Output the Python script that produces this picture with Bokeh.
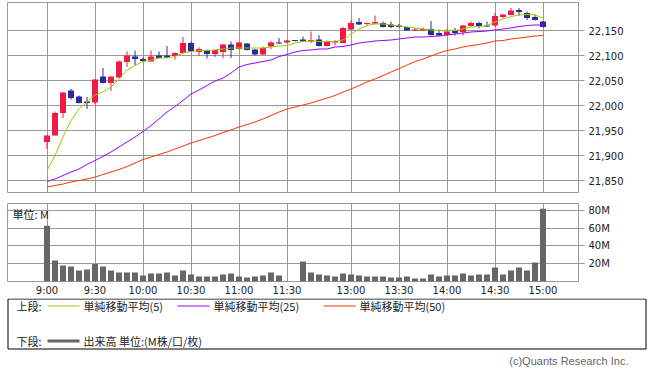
from bokeh.plotting import figure
from bokeh.models import Range1d, FixedTicker, NumeralTickFormatter, Label, ColumnDataSource
from bokeh.layouts import column
from bokeh.embed import file_html
from bokeh.resources import INLINE
from bokeh.core.properties import value

# ---------------- data ----------------
tick_pos = [0, 6, 12, 18, 24, 30, 38, 44, 50, 56, 62]
tick_labels = ["9:00", "9:30", "10:00", "10:30", "11:00", "11:30",
               "13:00", "13:30", "14:00", "14:30", "15:00"]

opens = [21927, 21940, 21985, 22030, 22018, 22008, 22006, 22058, 22045, 22056,
         22087, 22098, 22093, 22088, 22100, 22100, 22099, 22105, 22125, 22107,
         22111, 22103, 22107, 22122, 22113, 22124, 22112, 22102, 22118, 22126,
         22126, 22131, 22132, 22128, 22132, 22119, 22126, 22125, 22152, 22167,
         22163, 22164, 22165, 22162, 22160, 22157, 22150, 22150, 22153, 22145,
         22141, 22150, 22147, 22159, 22165, 22160, 22160, 22177, 22181, 22191,
         22185, 22177, 22168]
highs = [21941, 21988, 22027, 22033, 22020, 22017, 22053, 22075, 22058, 22090,
         22108, 22110, 22096, 22110, 22108, 22119, 22106, 22137, 22128, 22116,
         22112, 22112, 22123, 22128, 22127, 22125, 22113, 22118, 22129, 22135,
         22131, 22131, 22138, 22148, 22141, 22130, 22131, 22157, 22170, 22175,
         22166, 22180, 22168, 22168, 22163, 22158, 22155, 22156, 22169, 22152,
         22153, 22155, 22161, 22168, 22167, 22168, 22185, 22183, 22195, 22195,
         22188, 22182, 22169]
lows = [21913, 21940, 21975, 22012, 22004, 21993, 22003, 22044, 22029, 22055,
        22077, 22081, 22088, 22088, 22094, 22095, 22092, 22104, 22107, 22100,
        22094, 22097, 22095, 22095, 22112, 22110, 22100, 22101, 22113, 22123,
        22125, 22128, 22127, 22125, 22118, 22118, 22120, 22124, 22151, 22161,
        22160, 22163, 22156, 22155, 22156, 22149, 22149, 22149, 22140, 22139,
        22140, 22140, 22140, 22158, 22155, 22157, 22158, 22174, 22180, 22180,
        22171, 22170, 22156]
closes = [21940, 21985, 22026, 22015, 22005, 22005, 22052, 22045, 22058, 22088,
          22100, 22093, 22089, 22098, 22095, 22096, 22105, 22125, 22108, 22113,
          22103, 22111, 22122, 22111, 22126, 22111, 22102, 22115, 22126, 22124,
          22130, 22129, 22128, 22131, 22119, 22127, 22129, 22155, 22165, 22162,
          22165, 22167, 22157, 22157, 22157, 22150, 22152, 22153, 22141, 22140,
          22148, 22145, 22160, 22165, 22159, 22158, 22179, 22182, 22190, 22187,
          22175, 22171, 22157]

ma5 = [21870, 21900, 21937, 21970, 21993, 22007, 22021, 22027, 22037, 22053,
       22071, 22080, 22088, 22091, 22095, 22095, 22098, 22105, 22108, 22110,
       22110, 22111, 22113, 22115, 22115, 22115, 22115, 22115, 22117, 22119,
       22120, 22125, 22128, 22129, 22128, 22128, 22128, 22131, 22143, 22153,
       22160, 22163, 22163, 22161, 22159, 22157, 22155, 22153, 22151, 22150,
       22149, 22150, 22153, 22157, 22158, 22160, 22167, 22173, 22178, 22181,
       22182, 22181, 22175]
ma25 = [21848, 21853, 21860, 21867, 21873, 21882, 21890, 21898, 21907, 21917,
        21927, 21937, 21948, 21960, 21973, 21987, 21998, 22010, 22023, 22031,
        22040, 22049, 22055, 22065, 22077, 22082, 22085, 22088, 22091, 22098,
        22102, 22107, 22110, 22111, 22113, 22113, 22117, 22118, 22121, 22125,
        22127, 22129, 22130, 22131, 22133, 22135, 22137, 22137, 22138, 22139,
        22141, 22143, 22145, 22147, 22148, 22149, 22151, 22153, 22155, 22158,
        22160, 22161, 22161]
ma50 = [21837, 21840, 21843, 21847, 21850, 21853, 21857, 21862, 21867, 21872,
        21878, 21885, 21892, 21897, 21902, 21907, 21913, 21919, 21925, 21930,
        21935, 21940, 21946, 21951, 21957, 21962, 21967, 21973, 21980, 21987,
        21993, 21997, 22001, 22005, 22010, 22015, 22020, 22027, 22033, 22040,
        22047, 22053, 22060, 22067, 22074, 22081, 22088, 22093, 22099, 22105,
        22110, 22113, 22117, 22120, 22122, 22125, 22129, 22130, 22133, 22135,
        22137, 22139, 22140]

volume = [62.8, 23.6, 17.9, 16.8, 12.3, 13.5, 19.8, 16.8, 12.3, 10.1,
          10.1, 10.1, 6.7, 9.0, 9.0, 10.1, 6.7, 12.3, 7.9, 5.6,
          5.6, 5.6, 7.9, 9.0, 5.6, 4.5, 5.6, 6.7, 10.1, 6.7,
          0.3, 0.0, 22.4, 10.1, 7.9, 6.7, 5.6, 9.0, 7.9, 6.7,
          5.6, 5.6, 5.6, 4.5, 4.5, 5.6, 3.4, 3.4, 7.9, 5.6,
          6.7, 6.7, 9.0, 6.7, 7.9, 7.9, 15.7, 7.9, 12.3, 15.7,
          12.3, 21.3, 81.9]

price_ticks = [21850, 21900, 21950, 22000, 22050, 22100, 22150]
vol_ticks = [20, 40, 60, 80]
vol_labels = ["20M", "40M", "60M", "80M"]

ma_names = ["単純移動平均(5)", "単純移動平均(25)", "単純移動平均(50)"]
ma_colors = ["#99cc00", "#9900ff", "#ff3300"]
vol_name = "出来高 単位:(M株/口/枚)"

# ---------------- style ----------------
UP = "#ee1b47"
DOWN = "#2c2c96"
GRID = "#999999"
VOLC = "#666666"
AXIS_FONT = "DejaVu Sans"
JP_FONT = "Noto Sans CJK JP"
W = 655

n = len(opens)
idx = list(range(n))
px_per_bar = 8.0
frame_w = 571
x_start = -39.5 / px_per_bar
x_rng = Range1d(x_start, x_start + frame_w / px_per_bar)

body_top, body_bot, cols = [], [], []
for o, c in zip(opens, closes):
    t, b = max(o, c), min(o, c)
    if t - b < 2:
        b = t - 2
    body_top.append(t)
    body_bot.append(b)
    cols.append(UP if c >= o else DOWN)

src = ColumnDataSource(dict(x=idx, o=opens, h=highs, l=lows, c=closes,
                            bt=body_top, bb=body_bot, col=cols,
                            ma5=ma5, ma25=ma25, ma50=ma50, vol=volume))


def style_right_axis(ax):
    ax.major_tick_out = 6
    ax.major_tick_in = 0
    ax.minor_tick_out = 0
    ax.minor_tick_in = 0
    ax.major_label_standoff = 4
    ax.axis_line_color = GRID
    ax.major_tick_line_color = GRID
    ax.major_label_text_font = AXIS_FONT
    ax.major_label_text_font_size = "10px"
    ax.major_label_text_color = "#222222"


# ---------------- price panel ----------------
p = figure(width=W, height=203, x_range=x_rng, y_range=Range1d(21826, 22206),
           output_backend="svg", toolbar_location=None,
           x_axis_location="below", y_axis_location="right",
           min_border_left=7, min_border_right=W - 7 - frame_w, min_border_top=2, min_border_bottom=11)
p.outline_line_color = GRID
p.ygrid.grid_line_color = GRID
p.xgrid.grid_line_color = GRID
p.xaxis.ticker = FixedTicker(ticks=tick_pos)
p.xaxis.visible = False
ya = p.yaxis[0]
ya.ticker = FixedTicker(ticks=price_ticks)
ya.formatter = NumeralTickFormatter(format="0,0")
style_right_axis(ya)

p.segment(x0="x", y0="l", x1="x", y1="h", color="col", line_width=1, source=src)
p.vbar(x="x", top="bt", bottom="bb", width=0.75, fill_color="col", line_color=None, source=src)
for key, colr in zip(["ma5", "ma25", "ma50"], ma_colors):
    p.line(x="x", y=key, line_color=colr, line_width=1, source=src)

# ---------------- volume panel ----------------
v = figure(width=W, height=95, x_range=x_rng, y_range=Range1d(0, 87.8),
           output_backend="svg", toolbar_location=None,
           x_axis_location="below", y_axis_location="right",
           min_border_left=7, min_border_right=W - 7 - frame_w, min_border_top=0, min_border_bottom=16)
v.outline_line_color = GRID
v.ygrid.grid_line_color = GRID
v.xgrid.grid_line_color = GRID
xa = v.xaxis[0]
xa.ticker = FixedTicker(ticks=tick_pos)
xa.major_label_overrides = {t: s for t, s in zip(tick_pos, tick_labels)}
xa.major_tick_out = 0
xa.major_tick_in = 0
xa.minor_tick_out = 0
xa.minor_tick_in = 0
xa.axis_line_color = None
xa.major_label_standoff = 3
xa.major_label_text_font = AXIS_FONT
xa.major_label_text_font_size = "10px"
xa.major_label_text_color = "#222222"
va = v.yaxis[0]
va.ticker = FixedTicker(ticks=vol_ticks)
va.major_label_overrides = {t: s for t, s in zip(vol_ticks, vol_labels)}
style_right_axis(va)

v.vbar(x="x", top="vol", width=0.75, fill_color=VOLC, line_color=None, source=src)
v.add_layout(Label(x=x_start + 5 / px_per_bar, y=87.8 - 3 * 87.8 / 79, text="単位: M",
                   text_font=JP_FONT, text_font_size="11px", text_baseline="top",
                   text_color="#222222"))

# ---------------- legend panel ----------------
LH = 73
L = figure(width=W, height=LH, x_range=Range1d(0, W), y_range=Range1d(LH, 0),
           output_backend="svg", toolbar_location=None,
           x_axis_location=None, y_axis_location=None, frame_align=False,
           min_border_left=0, min_border_right=0, min_border_top=0, min_border_bottom=0)
L.outline_line_color = None
L.xgrid.visible = False
L.ygrid.visible = False
L.quad(left=[7.5], right=[645.5], top=[0.5], bottom=[50.5], fill_color=None,
       line_color="#000000", line_width=1)
# upper legend row
L.text(x=[16], y=[7], text=["上段:"], text_font=value(JP_FONT), text_font_size="11px",
       text_baseline="middle", text_color="#222222")
seg_x0 = [47, 177, 323]
for sx, name, colr in zip(seg_x0, ma_names, ma_colors):
    L.segment(x0=[sx], y0=[7.5], x1=[sx + 32], y1=[7.5], line_color=colr, line_width=1.2)
    L.text(x=[sx + 36], y=[7], text=[name], text_font=value(JP_FONT), text_font_size="11px",
           text_baseline="middle", text_color="#222222")
# lower legend row
L.text(x=[16], y=[42], text=["下段:"], text_font=value(JP_FONT), text_font_size="11px",
       text_baseline="middle", text_color="#222222")
L.segment(x0=[47], y0=[42.5], x1=[79], y1=[42.5], line_color=VOLC, line_width=3)
L.text(x=[83], y=[42], text=[vol_name], text_font=value(JP_FONT), text_font_size="11px",
       text_baseline="middle", text_color="#222222")
L.text(x=[628], y=[62], text=["(c)Quants Research Inc."], text_font=value("Liberation Sans"),
       text_font_size="11px", text_baseline="middle", text_align="right", text_color="#666666")

layout = column(p, v, L)
open("out.html", "w").write(file_html(layout, INLINE))
